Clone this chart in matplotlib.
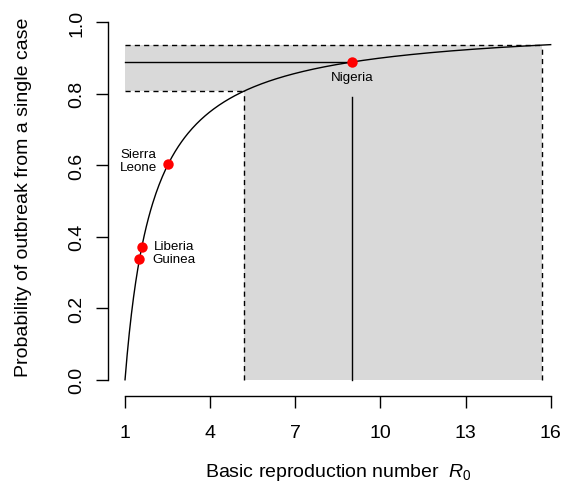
import numpy as np
import matplotlib
matplotlib.use("Agg")
import matplotlib.pyplot as plt

plt.rcParams['font.family'] = ['Liberation Sans', 'DejaVu Sans']
plt.rcParams['mathtext.fontset'] = 'custom'
plt.rcParams['mathtext.rm'] = 'Liberation Sans'
plt.rcParams['mathtext.it'] = 'Liberation Sans:italic'

# estimated R0 per country (points sit on the curve 1 - 1/R0)
countries = ['Guinea', 'Liberia', 'Sierra\nLeone', 'Nigeria']
r0_values = [1.51, 1.59, 2.53, 9.0]

# Nigeria interval on R0
nigeria_lo = 5.2
nigeria_hi = 15.7
nigeria_vline_top = 0.79

x_ticks = [1, 4, 7, 10, 13, 16]
y_ticks = [0.0, 0.2, 0.4, 0.6, 0.8, 1.0]
y_tick_labels = ['0.0', '0.2', '0.4', '0.6', '0.8', '1.0']

def p_outbreak(r):
    return 1 - 1 / np.asarray(r, dtype=float)

fs = 14
grey = '#D9D9D9'

fig = plt.figure(figsize=(5.62, 4.89), dpi=100)
ax = fig.add_axes([108 / 562, 0.18916, 459.7 / 562, 0.79244])

p_lo = p_outbreak(nigeria_lo)
p_hi = p_outbreak(nigeria_hi)

# shaded band
ax.fill([1, nigeria_lo, nigeria_lo, nigeria_hi, nigeria_hi, 1],
        [p_lo, p_lo, 0, 0, p_hi, p_hi], color=grey, lw=0, zorder=1)

dash = dict(color='black', lw=1.0, dashes=(3.7, 3.0), zorder=2)
ax.plot([1, nigeria_hi], [p_hi, p_hi], **dash)
ax.plot([1, nigeria_lo], [p_lo, p_lo], **dash)
ax.plot([nigeria_lo, nigeria_lo], [0, p_lo], **dash)
ax.plot([nigeria_hi, nigeria_hi], [0, p_hi], **dash)

# Nigeria cross-hair
p_nig = p_outbreak(r0_values[3])
ax.plot([1, r0_values[3]], [p_nig, p_nig], color='black', lw=1.0, zorder=2)
ax.plot([r0_values[3], r0_values[3]], [0, nigeria_vline_top], color='black', lw=1.0, zorder=2)

# curve
r = np.linspace(1, 16, 400)
ax.plot(r, p_outbreak(r), color='black', lw=1.0, zorder=3)

# points
ax.plot(r0_values, p_outbreak(r0_values), 'o', color='#FF0000', ms=7.5, mec='none', zorder=4)

lab = dict(fontsize=9.6, textcoords='offset points')
ax.annotate(countries[0], (r0_values[0], p_outbreak(r0_values[0])), xytext=(9, 0),
            ha='left', va='center', **lab)
ax.annotate(countries[1], (r0_values[1], p_outbreak(r0_values[1])), xytext=(9, 0.5),
            ha='left', va='center', **lab)
ax.annotate(countries[2], (r0_values[2], p_outbreak(r0_values[2])), xytext=(-8.5, 2),
            ha='right', va='center', multialignment='center', linespacing=1.1, **lab)
ax.annotate(countries[3], (r0_values[3], p_nig), xytext=(0, -6.5),
            ha='center', va='top', **lab)

ax.set_xlim(0.4, 16.6)
ax.set_ylim(-0.044, 1.04)

for s in ['top', 'right']:
    ax.spines[s].set_visible(False)
ax.spines['left'].set_bounds(0, 1)
ax.spines['bottom'].set_bounds(1, 16)
for s in ['left', 'bottom']:
    ax.spines[s].set_linewidth(1.0)

ax.set_xticks(x_ticks)
ax.set_xticklabels([str(t) for t in x_ticks])
ax.set_yticks(y_ticks)
ax.set_yticklabels(y_tick_labels)
ax.tick_params(axis='both', length=8.3, width=1.0, labelsize=fs)
ax.tick_params(axis='x', pad=12.0)
ax.tick_params(axis='y', pad=8.2, labelrotation=90)
for t in ax.get_yticklabels():
    t.set_va('center')

fig.text(338.5 / 562, 12.3 / 489, r'Basic reproduction number  $R_0$',
         ha='center', va='baseline', fontsize=fs)
fig.text(28.3 / 562, (489 - 197.2) / 489, 'Probability of outbreak from a single case',
         ha='center', va='baseline', rotation=90, rotation_mode='anchor', fontsize=fs)

fig.savefig('out.png', dpi=100)
